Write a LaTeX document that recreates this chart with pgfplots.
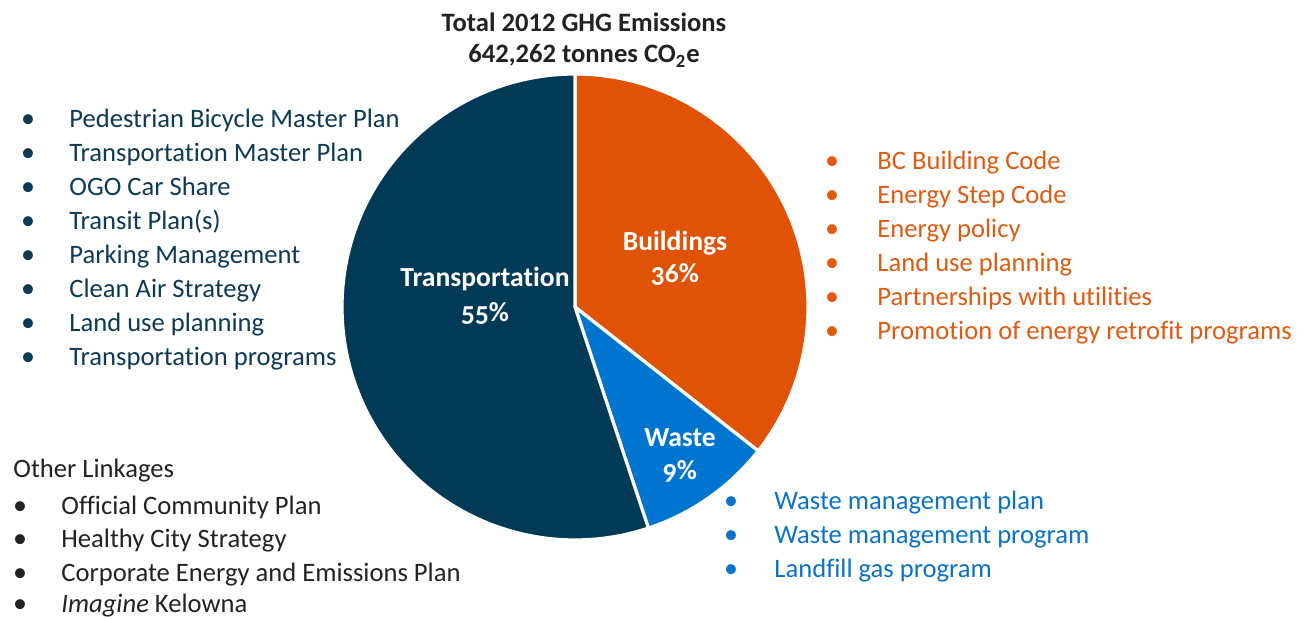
\documentclass[border=0pt]{standalone}
\usepackage{pgfplots}
\pgfplotsset{compat=1.18}
\usepackage{fontspec}
\setmainfont{Carlito}[Ligatures=NoCommon]
\newfontfamily\labfont[Numbers=OldStyle,Ligatures=NoCommon]{Carlito}
\definecolor{navy}{HTML}{003A57}
\definecolor{orng}{HTML}{E05206}
\definecolor{wblue}{HTML}{0075CF}
\definecolor{navytxt}{HTML}{0D3A55}
\definecolor{orngtxt}{HTML}{E05A10}
\definecolor{bluetxt}{HTML}{0A72C8}
\definecolor{blk}{HTML}{222222}
\begin{document}
\begin{tikzpicture}[
  itm/.style={anchor=base west, inner sep=0pt, font=\fontsize{13.3}{15}\selectfont},
  bul/.style={anchor=base, inner sep=0pt, font=\fontsize{14}{15}\selectfont},
  lab/.style={anchor=base, inner sep=0pt, text=white, font=\fontsize{13.8}{15}\selectfont\bfseries\labfont}]
\begin{axis}[
  width=655.5pt, height=309.5pt, scale only axis,
  xmin=-575, xmax=736, ymin=-312, ymax=307,
  hide axis, clip=false]
% shares (percent): Buildings 35.6, Waste 9.3, Transportation 55.1
% angles: 90 -> 90-3.6*35.6 = -38.16 -> -38.16-3.6*9.3 = -71.64 -> -270
\addplot[data cs=polar, fill=orng, draw=white, line width=1.6pt, line join=round,
  domain=90:-38.16, samples=80] {233} -- (axis cs:0,0) -- cycle;
\addplot[data cs=polar, fill=wblue, draw=white, line width=1.6pt, line join=round,
  domain=-38.16:-71.64, samples=30] {233} -- (axis cs:0,0) -- cycle;
\addplot[data cs=polar, fill=navy, draw=white, line width=1.6pt, line join=round,
  domain=-71.64:-270, samples=120] {233} -- (axis cs:0,0) -- cycle;

\coordinate (BL) at (axis cs:-575,-312);
\coordinate (TR) at (axis cs:736,307);

% title
\node[anchor=base, inner sep=0pt, text=blk, font=\fontsize{13.3}{15}\selectfont\bfseries] at (axis cs:9,275) {Total 2012 GHG Emissions};
\node[anchor=base, inner sep=0pt, text=blk, font=\fontsize{13.3}{15}\selectfont\bfseries] at (axis cs:9,244) {642,262 tonnes CO\textsubscript{2}e};

% pie labels
\node[lab] at (axis cs:-90,20) {Transportation};
\node[lab] at (axis cs:-90,-15) {55\%};
\node[lab] at (axis cs:100,56) {Buildings};
\node[lab] at (axis cs:100,24) {36\%};
\node[lab] at (axis cs:105,-140) {Waste};
\node[lab] at (axis cs:105,-173) {9\%};

% transportation list
\node[bul, text=navytxt] at (axis cs:-547,179) {•};
\node[itm, text=navytxt] at (axis cs:-506,179) {Pedestrian Bicycle Master Plan};
\node[bul, text=navytxt] at (axis cs:-547,145) {•};
\node[itm, text=navytxt] at (axis cs:-506,145) {Transportation Master Plan};
\node[bul, text=navytxt] at (axis cs:-547,111) {•};
\node[itm, text=navytxt] at (axis cs:-506,111) {OGO Car Share};
\node[bul, text=navytxt] at (axis cs:-547,77) {•};
\node[itm, text=navytxt] at (axis cs:-506,77) {Transit Plan(s)};
\node[bul, text=navytxt] at (axis cs:-547,43) {•};
\node[itm, text=navytxt] at (axis cs:-506,43) {Parking Management};
\node[bul, text=navytxt] at (axis cs:-547,9) {•};
\node[itm, text=navytxt] at (axis cs:-506,9) {Clean Air Strategy};
\node[bul, text=navytxt] at (axis cs:-547,-25) {•};
\node[itm, text=navytxt] at (axis cs:-506,-25) {Land use planning};
\node[bul, text=navytxt] at (axis cs:-547,-59) {•};
\node[itm, text=navytxt] at (axis cs:-506,-59) {Transportation programs};

% buildings list
\node[bul, text=orngtxt] at (axis cs:257,137) {•};
\node[itm, text=orngtxt] at (axis cs:302,137) {BC Building Code};
\node[bul, text=orngtxt] at (axis cs:257,103) {•};
\node[itm, text=orngtxt] at (axis cs:302,103) {Energy Step Code};
\node[bul, text=orngtxt] at (axis cs:257,69) {•};
\node[itm, text=orngtxt] at (axis cs:302,69) {Energy policy};
\node[bul, text=orngtxt] at (axis cs:257,35) {•};
\node[itm, text=orngtxt] at (axis cs:302,35) {Land use planning};
\node[bul, text=orngtxt] at (axis cs:257,1) {•};
\node[itm, text=orngtxt] at (axis cs:302,1) {Partnerships with utilities};
\node[bul, text=orngtxt] at (axis cs:257,-33) {•};
\node[itm, text=orngtxt] at (axis cs:302,-33) {Promotion of energy retrofit programs};

% waste list
\node[bul, text=bluetxt] at (axis cs:156,-203) {•};
\node[itm, text=bluetxt] at (axis cs:199,-203) {Waste management plan};
\node[bul, text=bluetxt] at (axis cs:156,-237) {•};
\node[itm, text=bluetxt] at (axis cs:199,-237) {Waste management program};
\node[bul, text=bluetxt] at (axis cs:156,-271) {•};
\node[itm, text=bluetxt] at (axis cs:199,-271) {Landfill gas program};

% other linkages
\node[itm, text=blk] at (axis cs:-562,-171) {Other Linkages};
\node[bul, text=blk] at (axis cs:-555,-208) {•};
\node[itm, text=blk] at (axis cs:-514,-208) {Official Community Plan};
\node[bul, text=blk] at (axis cs:-555,-241) {•};
\node[itm, text=blk] at (axis cs:-514,-241) {Healthy City Strategy};
\node[bul, text=blk] at (axis cs:-555,-275) {•};
\node[itm, text=blk] at (axis cs:-514,-275) {Corporate Energy and Emissions Plan};
\node[bul, text=blk] at (axis cs:-555,-306) {•};
\node[itm, text=blk] at (axis cs:-514,-306) {\textit{Imagine} Kelowna};
\end{axis}
\pgfresetboundingbox
\path[use as bounding box] (BL) rectangle (TR);
\end{tikzpicture}
\end{document}
